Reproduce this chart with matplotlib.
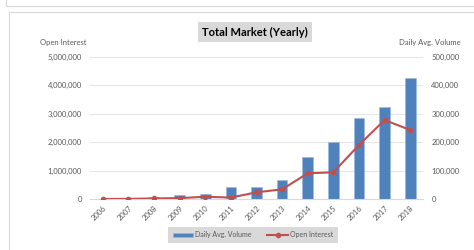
import matplotlib
matplotlib.use("Agg")
from matplotlib import pyplot as plt
from matplotlib.patches import Rectangle
from matplotlib.ticker import FuncFormatter
import numpy as np

years = ["2006", "2007", "2008", "2009", "2010", "2011", "2012",
         "2013", "2014", "2015", "2016", "2017", "2018"]
daily_volume = [1000, 4000, 7000, 14000, 19000, 41000, 43000,
                68000, 147000, 200000, 285000, 323000, 427000]
open_interest = [0, 5000, 20000, 30000, 80000, 50000, 236000,
                 340000, 905000, 940000, 1900000, 2780000, 2430000]

plt.rcParams['font.family'] = ['Lato', 'DejaVu Sans']
gray = "#595959"
blue = "#4F81BD"
red = "#C0504D"

fig = plt.figure(figsize=(4.74, 2.5), dpi=100)

# chart frame lines
fig.patches.append(Rectangle((6 / 474, 1 - 6 / 250), 1, 1, transform=fig.transFigure,
                             fill=False, edgecolor="#D9D9D9", lw=0.8))
fig.patches.append(Rectangle((9 / 474, -0.1), 1, 1 - 12 / 250 + 0.1, transform=fig.transFigure,
                             fill=False, edgecolor="#D9D9D9", lw=0.8))

ax = fig.add_axes([90 / 474, 51 / 250, 333 / 474, 142 / 250])
ax2 = ax.twinx()

x = np.arange(len(years))
ax2.bar(x, daily_volume, width=0.42, color=blue, edgecolor="#9DB7DB", lw=0.4, zorder=2)
ax.plot(x, open_interest, color=red, lw=1.5, marker="o", ms=3, zorder=3)

ax.set_zorder(ax2.get_zorder() + 1)
ax.patch.set_visible(False)

ax.set_ylim(0, 5000000)
ax2.set_ylim(0, 500000)
ax.set_xlim(-0.5, len(years) - 0.5)
ax.set_yticks(np.arange(0, 5000001, 1000000))
ax2.set_yticks(np.arange(0, 500001, 100000))
fmt = FuncFormatter(lambda v, p: f"{int(v):,}")
ax.yaxis.set_major_formatter(fmt)
ax2.yaxis.set_major_formatter(fmt)
ax2.yaxis.grid(True, color="#E6E6E6", lw=0.8)
ax2.set_axisbelow(True)

ax.set_xticks(x)
ax.set_xticklabels(years, rotation=45, ha="right", rotation_mode="anchor")

for a in (ax, ax2):
    for s in a.spines.values():
        s.set_visible(False)
    a.tick_params(length=0, labelsize=5.5, colors=gray, pad=6)
ax.spines["bottom"].set_visible(True)
ax.spines["bottom"].set_color("#D9D9D9")
ax.tick_params(axis="x", pad=4)

fig.text(63 / 474, 1 - 43 / 250, "Open Interest", fontsize=5.5, color=gray, ha="center", va="center")
fig.text(430 / 474, 1 - 43 / 250, "Daily Avg. Volume", fontsize=5.5, color=gray, ha="center", va="center")

fig.text(255 / 474, 1 - 32 / 250, "Total Market (Yearly)", fontsize=8, fontweight="bold",
         color="black", ha="center", va="center",
         bbox=dict(boxstyle="square,pad=0.4", facecolor="#D9D9D9", edgecolor="none"))

bars = ax2.patches[0]
line = ax.get_lines()[0]
leg = fig.legend([bars, line], ["Daily Avg. Volume", "Open Interest"], ncol=2,
                 loc="center", bbox_to_anchor=(253 / 474, 1 - 235 / 250),
                 fontsize=5, frameon=True, facecolor="#D9D9D9", edgecolor="none",
                 fancybox=False, handlelength=3, handleheight=0.6, columnspacing=2.2,
                 handletextpad=0.3, borderpad=0.6)
leg.get_frame().set_alpha(1)
for t in leg.get_texts():
    t.set_color(gray)

plt.savefig("out.png", dpi=100)
